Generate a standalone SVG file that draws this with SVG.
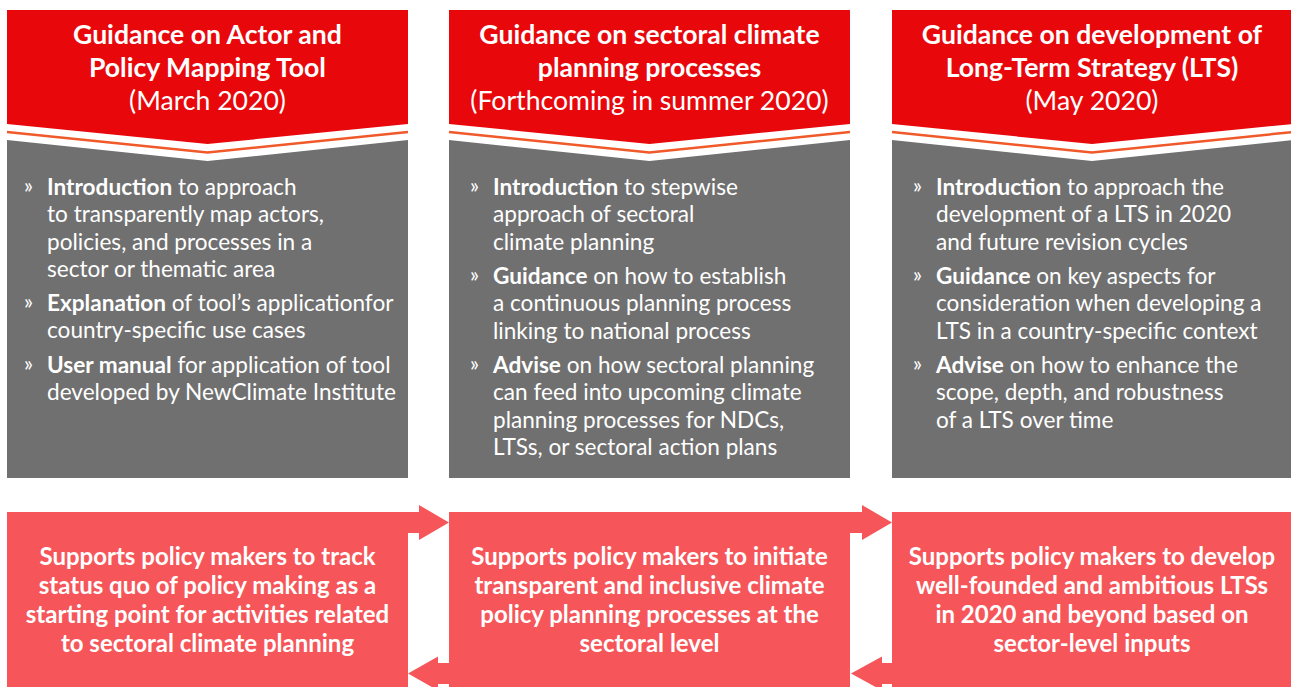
<svg xmlns="http://www.w3.org/2000/svg" width="1291" height="687" viewBox="0 0 1291 687">
<style>
.hdr{fill:#E8080B}
.body{fill:#707070}
.sep{fill:none;stroke:#F0592A;stroke-width:2.5}
.box{fill:#F65659}
.t{font-family:Lato,"Open Sans","Liberation Sans",sans-serif;fill:#fff}
.tt{font-size:26.6px;font-weight:700;text-anchor:middle}
.ts{font-size:26.6px;font-weight:400;text-anchor:middle}
.b{font-size:22.6px}
.b tspan.k{font-weight:700}
.bl{font-size:21px}
.bt{font-size:24px;font-weight:700;text-anchor:middle}
</style>
<rect width="1291" height="687" fill="#fff"/>

<g id="col1">
<polygon class="hdr" points="7,10 408,10 408,124 207.5,144 7,124"/>
<polyline class="sep" points="7,132 207.5,152.5 408,132"/>
<polygon class="body" points="7,140 207.5,161 408,140 408,478 7,478"/>
<text class="t tt" x="207.5" y="44">Guidance on Actor and</text>
<text class="t tt" x="207.5" y="77">Policy Mapping Tool</text>
<text class="t ts" x="207.5" y="110">(March 2020)</text>
<text class="t bl" x="24" y="193">»</text>
<text class="t b" x="47" y="195"><tspan class="k">Introduction</tspan> to approach</text>
<text class="t b" x="47" y="222.3">to transparently map actors,</text>
<text class="t b" x="47" y="249.6">policies, and processes in a</text>
<text class="t b" x="47" y="276.9">sector or thematic area</text>
<text class="t bl" x="24" y="309">»</text>
<text class="t b" x="47" y="311"><tspan class="k">Explanation</tspan> of tool’s applicationfor</text>
<text class="t b" x="47" y="338.3">country-specific use cases</text>
<text class="t bl" x="24" y="371">»</text>
<text class="t b" x="47" y="373"><tspan class="k">User manual</tspan> for application of tool</text>
<text class="t b" x="47" y="400.3">developed by NewClimate Institute</text>
</g>

<g id="col2">
<polygon class="hdr" points="449,10 850,10 850,124 649.5,144 449,124"/>
<polyline class="sep" points="449,132 649.5,152.5 850,132"/>
<polygon class="body" points="449,140 649.5,161 850,140 850,478 449,478"/>
<text class="t tt" x="649.5" y="44">Guidance on sectoral climate</text>
<text class="t tt" x="649.5" y="77">planning processes</text>
<text class="t ts" x="649.5" y="110">(Forthcoming in summer 2020)</text>
<text class="t bl" x="470" y="193">»</text>
<text class="t b" x="493" y="195"><tspan class="k">Introduction</tspan> to stepwise</text>
<text class="t b" x="493" y="222.3">approach of sectoral</text>
<text class="t b" x="493" y="249.6">climate planning</text>
<text class="t bl" x="470" y="282">»</text>
<text class="t b" x="493" y="284"><tspan class="k">Guidance</tspan> on how to establish</text>
<text class="t b" x="493" y="311.3">a continuous planning process</text>
<text class="t b" x="493" y="338.6">linking to national process</text>
<text class="t bl" x="470" y="371">»</text>
<text class="t b" x="493" y="373"><tspan class="k">Advise</tspan> on how sectoral planning</text>
<text class="t b" x="493" y="400.3">can feed into upcoming climate</text>
<text class="t b" x="493" y="427.6">planning processes for NDCs,</text>
<text class="t b" x="493" y="454.9">LTSs, or sectoral action plans</text>
</g>

<g id="col3">
<polygon class="hdr" points="892,10 1293,10 1293,124 1092,144 892,124"/>
<polyline class="sep" points="892,132 1092,152.5 1293,132"/>
<polygon class="body" points="892,140 1092,161 1293,140 1293,478 892,478"/>
<text class="t tt" x="1092" y="44">Guidance on development of</text>
<text class="t tt" x="1092" y="77">Long-Term Strategy (LTS)</text>
<text class="t ts" x="1092" y="110">(May 2020)</text>
<text class="t bl" x="913" y="193">»</text>
<text class="t b" x="936" y="195"><tspan class="k">Introduction</tspan> to approach the</text>
<text class="t b" x="936" y="222.3">development of a LTS in 2020</text>
<text class="t b" x="936" y="249.6">and future revision cycles</text>
<text class="t bl" x="913" y="282">»</text>
<text class="t b" x="936" y="284"><tspan class="k">Guidance</tspan> on key aspects for</text>
<text class="t b" x="936" y="311.3">consideration when developing a</text>
<text class="t b" x="936" y="338.6">LTS in a country-specific context</text>
<text class="t bl" x="913" y="371">»</text>
<text class="t b" x="936" y="373"><tspan class="k">Advise</tspan> on how to enhance the</text>
<text class="t b" x="936" y="400.3">scope, depth, and robustness</text>
<text class="t b" x="936" y="427.6">of a LTS over time</text>
</g>

<g id="box1">
<rect class="box" x="7" y="512" width="401" height="180"/>
<text class="t bt" x="207.5" y="565">Supports policy makers to track</text>
<text class="t bt" x="207.5" y="594">status quo of policy making as a</text>
<text class="t bt" x="207.5" y="623">starting point for activities related</text>
<text class="t bt" x="207.5" y="652">to sectoral climate planning</text>
</g>

<g id="box2">
<rect class="box" x="449" y="512" width="401" height="180"/>
<text class="t bt" x="649.5" y="565">Supports policy makers to initiate</text>
<text class="t bt" x="649.5" y="594">transparent and inclusive climate</text>
<text class="t bt" x="649.5" y="623">policy planning processes at the</text>
<text class="t bt" x="649.5" y="652">sectoral level</text>
</g>

<g id="box3">
<rect class="box" x="892" y="512" width="401" height="180"/>
<text class="t bt" x="1092" y="565">Supports policy makers to develop</text>
<text class="t bt" x="1092" y="594">well-founded and ambitious LTSs</text>
<text class="t bt" x="1092" y="623">in 2020 and beyond based on</text>
<text class="t bt" x="1092" y="652">sector-level inputs</text>
</g>

<g id="connectors">
<polygon class="box" points="407,512 419,512 419,505 449,522.5 419,540 419,533 407,533"/>
<polygon class="box" points="850,512 862,512 862,505 892,522.5 862,540 862,533 850,533"/>
<polygon class="box" points="450,663 438,663 438,656.5 408,673.5 438,690.5 438,684 450,684"/>
<polygon class="box" points="893,663 882,663 882,656.5 851,673.5 882,690.5 882,684 893,684"/>
</g>
</svg>
